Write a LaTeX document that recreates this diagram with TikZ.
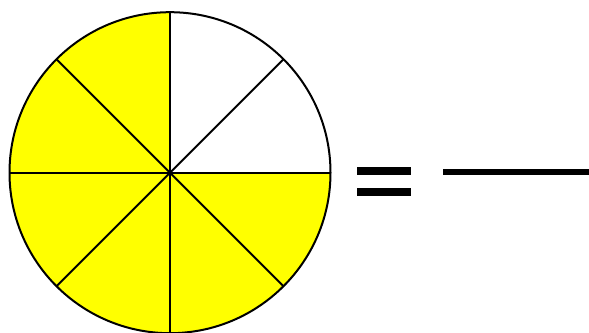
\documentclass[tikz,border=0pt]{standalone}
\definecolor{pieyellow}{RGB}{255,255,0}
\begin{document}
\begin{tikzpicture}[x=1pt,y=1pt,
  edge/.style={line width=2pt,draw=black},
  bar/.style={fill=black}]
\useasboundingbox (0,0) rectangle (589,332);
\clip (0,0) rectangle (589,332);
\def\R{160.5}
\coordinate (c) at (170,159.3);
\fill[pieyellow] (c) -- ++(90:\R) arc[start angle=90,end angle=360,radius=\R] -- cycle;
\foreach \a in {0,45,...,315} {\draw[edge] (c) -- ++(\a:\R);}
\draw[edge] (c) circle[radius=\R];
% equals sign
\fill[bar] (356.7,156.7) rectangle (411,165.3);
\fill[bar] (356.7,135.7) rectangle (411,144.3);
% fraction line
\fill[bar] (443.3,156.7) rectangle (589,162.7);
\end{tikzpicture}
\end{document}
